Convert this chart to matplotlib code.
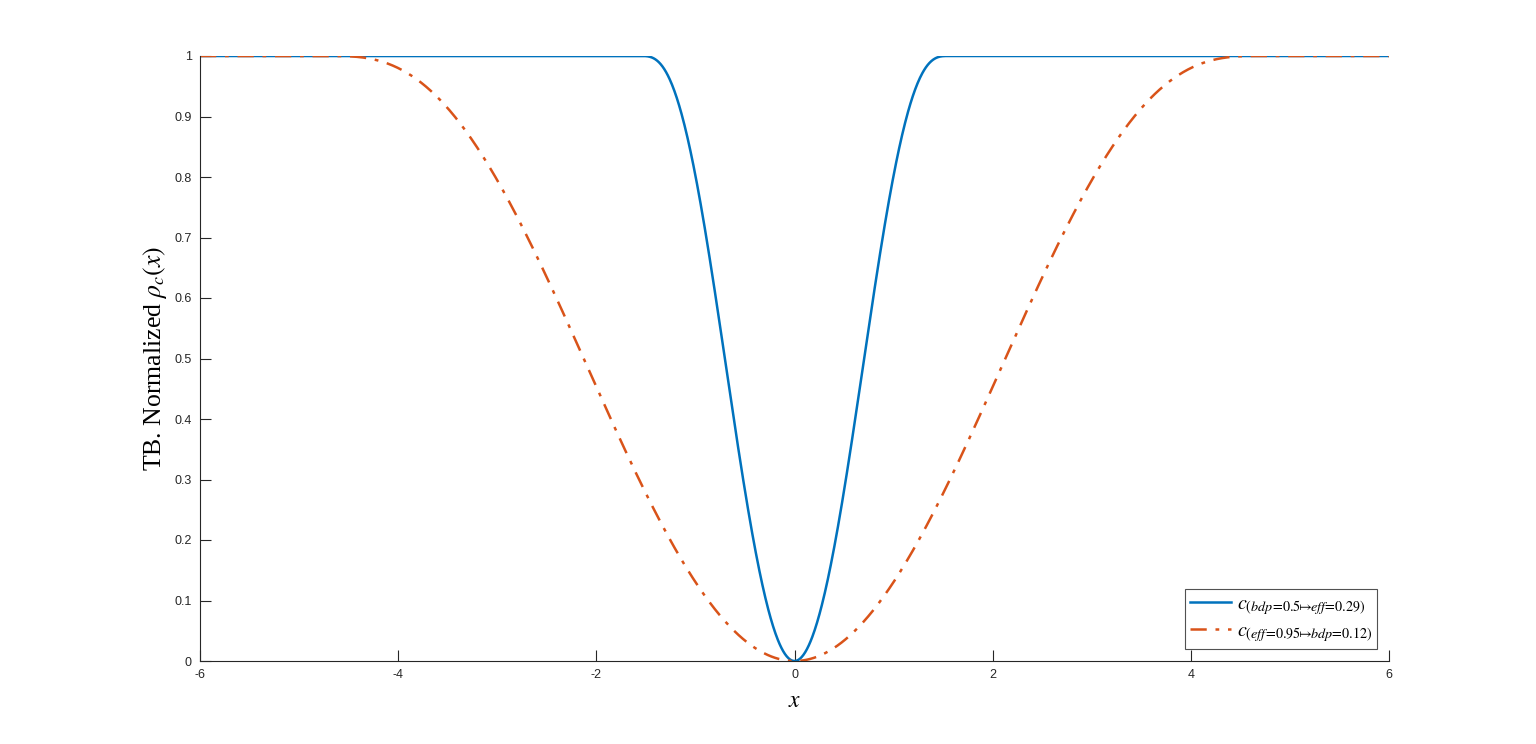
import numpy as np
import matplotlib
matplotlib.use("Agg")
import matplotlib.pyplot as plt

# Tukey biweight tuning constants shown in the legend
c_bdp = 1.5476   # bdp=0.5 -> eff=0.29
c_eff = 4.6851   # eff=0.95 -> bdp=0.12
x_range = (-6, 6)
x_ticks = [-6, -4, -2, 0, 2, 4, 6]
y_ticks = [0, 0.1, 0.2, 0.3, 0.4, 0.5, 0.6, 0.7, 0.8, 0.9, 1]
y_ticklabels = ['0', '0.1', '0.2', '0.3', '0.4', '0.5', '0.6', '0.7', '0.8', '0.9', '1']
labels = [r'$c_{(bdp\!=\!0.5\!\!\mapsto\!\! eff\!=\!0.29)}$',
          r'$c_{(eff\!=\!0.95\!\!\mapsto\!\! bdp\!=\!0.12)}$']


def rho_norm(x, c):
    u = np.clip(np.abs(x) / c, 0, 1)
    return 1 - (1 - u**2)**3


plt.rcParams['mathtext.fontset'] = 'stix'
plt.rcParams['font.family'] = ['Liberation Sans', 'DejaVu Sans']

x = np.linspace(x_range[0], x_range[1], 2001)

fig = plt.figure(figsize=(15.36, 7.44), dpi=100)
ax = fig.add_axes([200/1536, 1 - 661/744, (1389-200)/1536, (661-56)/744])

ax.plot(x, rho_norm(x, c_bdp), color='#0072BD', lw=1.8, label=labels[0])
ax.plot(x, rho_norm(x, c_eff), color='#D95319', lw=1.8, ls=(0, (6.5, 3.5, 1.5, 3.5)), label=labels[1])

ax.set_xlim(*x_range)
ax.set_ylim(0, 1)
ax.set_xticks(x_ticks)
ax.set_xticklabels([str(t) for t in x_ticks])
ax.set_yticks(y_ticks)
ax.set_yticklabels(y_ticklabels)
ax.tick_params(direction='in', length=8, width=0.8, labelsize=9, colors='#262626', pad=6)
ax.spines['top'].set_visible(False)
ax.spines['right'].set_visible(False)
for s in ['left', 'bottom']:
    ax.spines[s].set_color('#262626')
    ax.spines[s].set_linewidth(0.8)

ax.set_xlabel(r'$x$', fontsize=17, labelpad=6)
ax.set_ylabel(r'TB. Normalized $\rho_c(x)$', fontsize=18.5, family='Liberation Serif', labelpad=4)

leg = ax.legend(loc='lower right', fontsize=14.5, frameon=True, fancybox=False,
                edgecolor='#262626', borderaxespad=0.6, handlelength=2.0,
                handletextpad=0.3, borderpad=0.25, labelspacing=0.2)
leg.get_frame().set_linewidth(0.8)

fig.savefig('out.png', dpi=100)
